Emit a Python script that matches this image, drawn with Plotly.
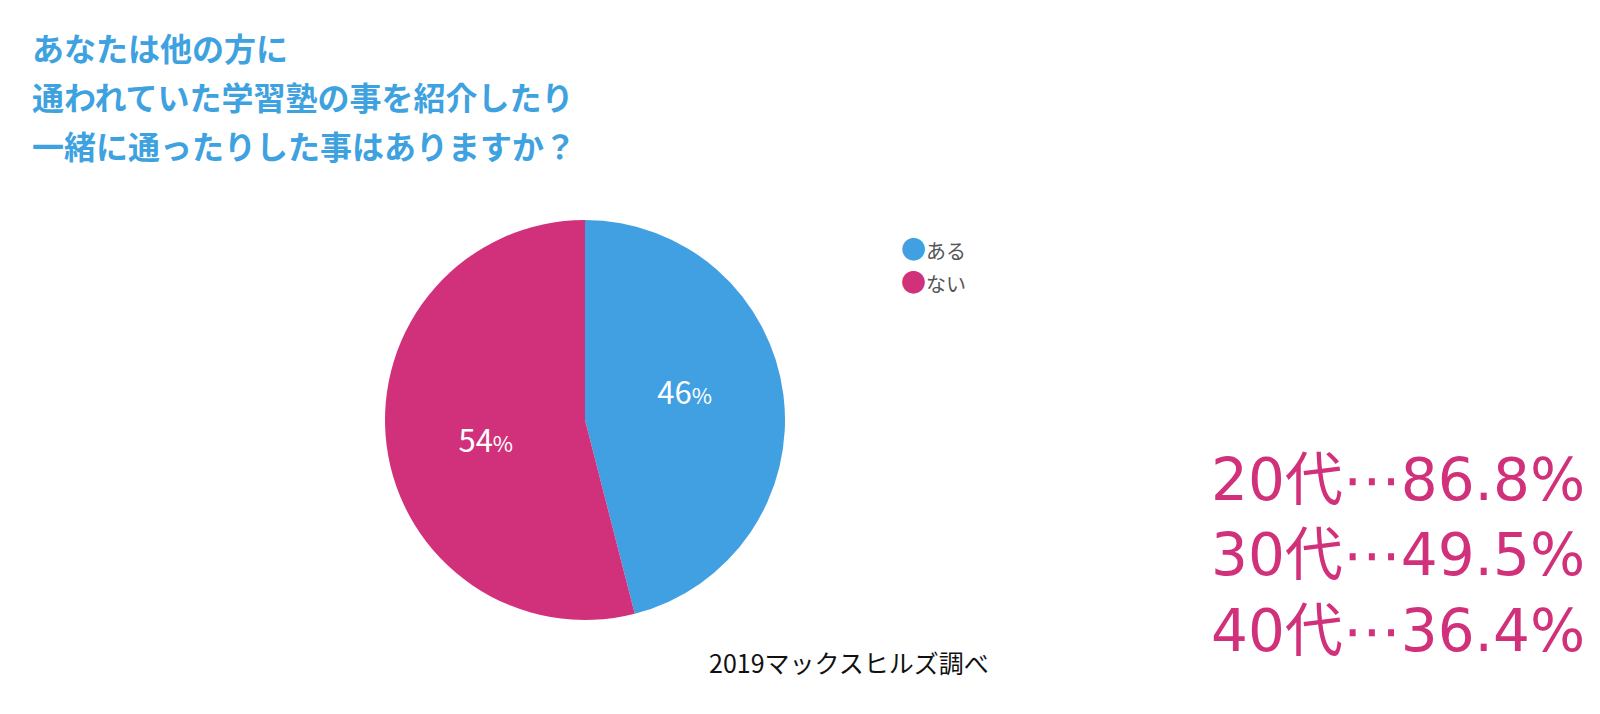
import plotly.graph_objects as go

# survey answers
labels = ["ある", "ない"]
shares = [46, 54]
slice_colors = ["#41A0E2", "#D1317A"]

title_lines = [
    "あなたは他の方に",
    "通われていた学習塾の事を紹介したり",
    "一緒に通ったりした事はありますか？",
]
age_groups = ["20代", "30代", "40代"]
age_rates = [86.8, 49.5, 36.4]
source_note = "2019マックスヒルズ調べ"

W, H = 1600, 714
JP = "Noto Sans CJK JP"

# value label; a tiny invisible spacer line nudges it up (ある) or down (ない)
label_tpl = "%{value}<span style='font-size:22px'>%</span>"
spacer = "<span style='font-size:6px;color:rgba(0,0,0,0)'>.</span>"
slice_tpl = [label_tpl + "<br>" + spacer, spacer + "<br>" + label_tpl]

fig = go.Figure()

fig.add_trace(go.Pie(
    labels=labels, values=shares,
    marker=dict(colors=slice_colors, line=dict(width=0)),
    sort=False, direction="clockwise", rotation=0,
    texttemplate=slice_tpl,
    textposition="inside", insidetextorientation="horizontal",
    textfont=dict(family=JP, size=31, color="white"),
    hoverinfo="label+percent",
    showlegend=False,
    domain=dict(x=[377 / W, 777 / W], y=[(H - 612) / H, (H - 212) / H]),
))

annotations = []
for i, line in enumerate(title_lines):
    annotations.append(dict(
        text=line, x=22 / W, y=1 - (39 + i * 49) / H,
        xref="paper", yref="paper", xanchor="left", yanchor="middle",
        showarrow=False, font=dict(family=JP, size=32, color="#3FA2E0", weight="bold"),
    ))

# legend with round markers
legend_rows = [f"<span style='color:{col}'>●</span><span style='font-size:20px'>{lab}</span>"
               for lab, col in zip(labels, slice_colors)]
annotations.append(dict(
    text="<br>".join(legend_rows), x=891 / W, y=1 - 256 / H,
    xref="paper", yref="paper", xanchor="left", yanchor="middle", align="left",
    showarrow=False, font=dict(family=JP, size=25, color="#555555"),
))

rate_lines = [f"{grp}⋯{rate:.1f}%" for grp, rate in zip(age_groups, age_rates)]
annotations.append(dict(
    text="<br>".join(rate_lines), x=1579 / W, y=1 - 547 / H,
    xref="paper", yref="paper", xanchor="right", yanchor="middle", align="right",
    showarrow=False, font=dict(family="DejaVu Sans, " + JP, size=58, color="#D1307B"),
))

annotations.append(dict(
    text=source_note, x=841 / W, y=1 - 654 / H,
    xref="paper", yref="paper", xanchor="center", yanchor="middle",
    showarrow=False, font=dict(family=JP, size=25, color="#111111"),
))

fig.update_layout(
    width=W, height=H,
    margin=dict(l=0, r=0, t=0, b=0),
    paper_bgcolor="white", plot_bgcolor="white",
    annotations=annotations,
)

fig.write_html("out.html")
